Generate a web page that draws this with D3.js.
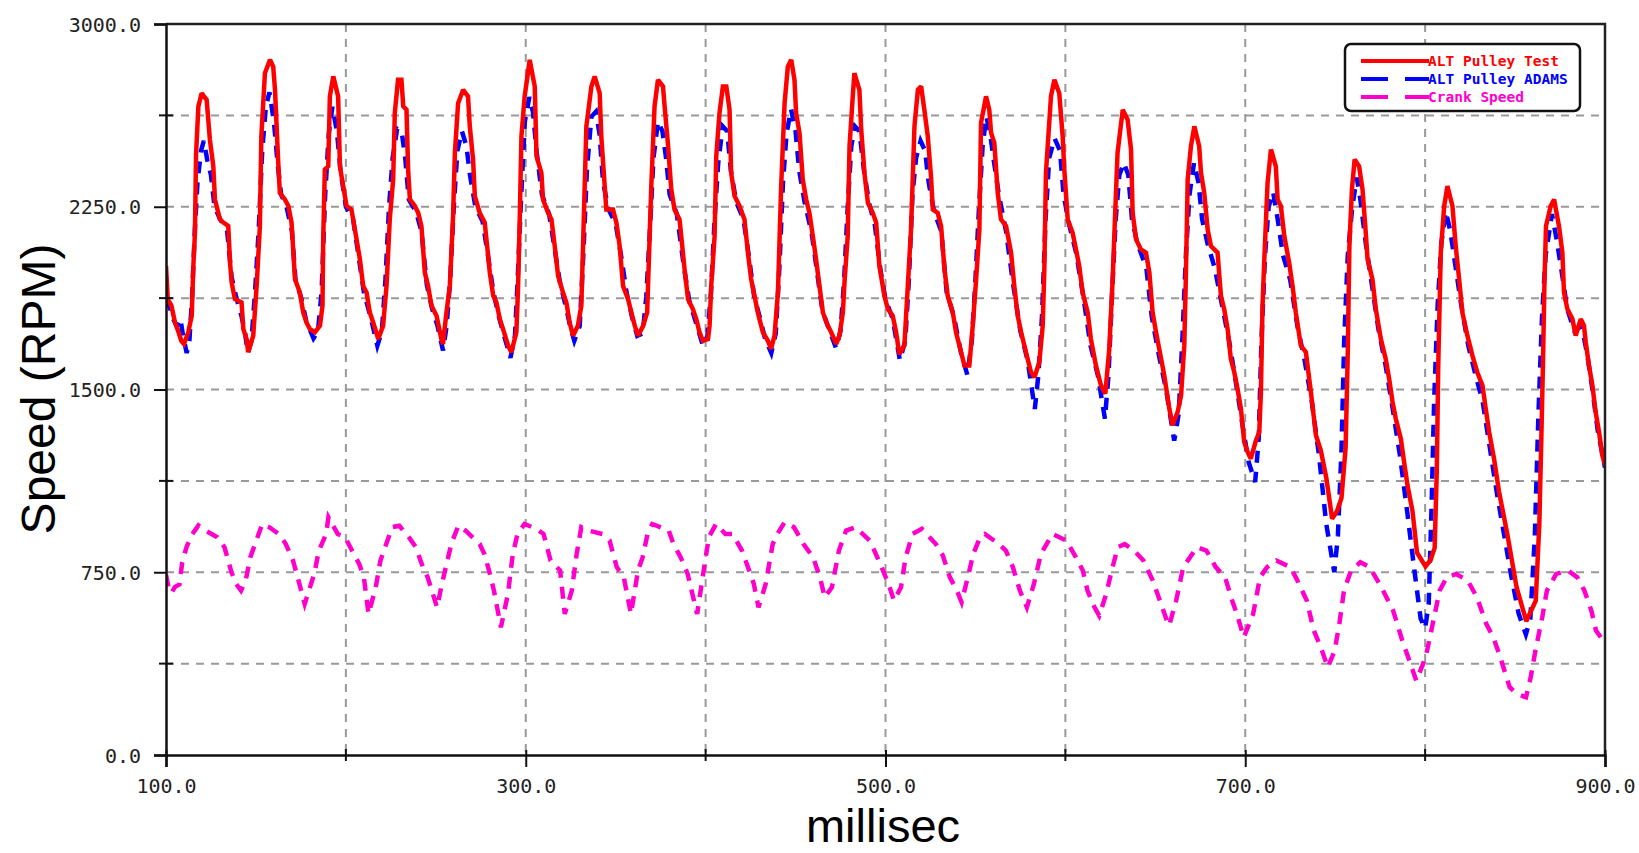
<!DOCTYPE html>
<html>
<head>
<meta charset="utf-8">
<script src="https://cdn.jsdelivr.net/npm/d3@7"></script>
<style>
  html, body { margin: 0; padding: 0; background: #fff; }
  svg { display: block; }
</style>
</head>
<body>
<svg id="chart" width="1639" height="853"></svg>
<script>
// ---------------- data ----------------
const xDomain = [100, 900];
const yDomain = [0, 3000];
const xMajorTicks = [100, 300, 500, 700, 900];
const xMinorTicks = [200, 400, 600, 800];
const yMajorTicks = [0, 750, 1500, 2250, 3000];
const yMinorTicks = [375, 1125, 1875, 2625];
const xGrid = [200, 300, 400, 500, 600, 700, 800];
const yGrid = [375, 750, 1125, 1500, 1875, 2250, 2625];
const xTitle = "millisec";
const yTitle = "Speed (RPM)";
const seriesNames = ["ALT Pulley Test", "ALT Pulley ADAMS", "Crank Speed"];
const seriesColors = ["#ff0000", "#0000ff", "#ff00cc"];

// ALT Pulley Test [ms, RPM]
const altPulleyTest = [
[100,2007],[101,1870],[103,1844],[105,1775],[107,1735],[108.5,1700],[110,1687],[112.4,1735],[114.3,1803],[115.2,2007],
[116.1,2144],[116.7,2464],[118,2662],[119.8,2716],[122.6,2689],[124.4,2525],[126.3,2416],[127.2,2280],[130,2198],[131.9,2185],
[134.6,2171],[135.6,2021],[136.5,1939],[138.3,1871],[142,1857],[143,1748],[144.8,1707],[145.7,1653],[148.5,1721],[150.4,1925],
[152.2,2171],[153,2539],[155,2798],[157.8,2853],[159.6,2825],[160.6,2730],[162.4,2430],[163.3,2307],[166.1,2280],[168,2253],
[169.8,2185],[171.7,1953],[174.4,1898],[176.3,1816],[178.1,1775],[180,1748],[182.8,1735],[185.6,1762],[187,1844],[187.4,2116],
[188.3,2403],[190.2,2416],[191.1,2703],[193,2785],[195.7,2703],[196.7,2416],[198.5,2335],[200.4,2253],[203.1,2239],[205,2157],
[207.8,2034],[209.6,1925],[211.5,1898],[213.3,1816],[215.2,1775],[218,1707],[220.7,1762],[222.6,1925],[224.4,2198],[226.3,2362],
[227.2,2635],[229,2771],[230.9,2771],[231.9,2662],[233.7,2648],[234.6,2403],[235.6,2280],[238.3,2253],[240.2,2225],[242,2171],
[243.9,1980],[245.7,1925],[247.6,1844],[250.4,1803],[253.1,1707],[254,1687],[255.9,1816],[257.8,1925],[259.6,2212],[260.6,2471],
[262.4,2675],[265.2,2730],[267.9,2703],[268.9,2580],[270.7,2444],[271.7,2294],[274.4,2225],[277.2,2185],[279.1,2048],[280,1980],
[281.9,1885],[283.7,1857],[285.6,1789],[287.4,1748],[290.2,1680],[292,1653],[294.8,1735],[295.7,1912],[296.7,2212],[297.6,2539],
[299.4,2703],[302.2,2853],[305,2744],[306,2457],[308.7,2389],[309.6,2280],[312.4,2225],[314.3,2198],[316.1,2089],[318,1966],
[320.7,1898],[322.6,1857],[324.4,1775],[326.3,1721],[329,1762],[330.9,1844],[331.9,2103],[333.7,2580],[336.5,2744],[338.3,2785],
[341.1,2716],[342,2539],[343.9,2335],[344.8,2239],[348.5,2239],[350.4,2185],[352.2,2089],[354.1,1925],[356.9,1871],[358.7,1816],
[360.6,1762],[362.4,1721],[365.2,1760],[367.5,1816],[368.4,2021],[369.8,2335],[371.6,2662],[373.5,2771],[376.3,2744],[377.2,2662],
[379,2512],[380.9,2321],[382.7,2239],[385.5,2198],[388.3,1993],[390.2,1871],[392.9,1830],[394.8,1789],[396.6,1735],[398.5,1700],
[401.3,1707],[402.2,1762],[403.1,1925],[405,2130],[405.9,2457],[407.7,2634],[409.6,2744],[411.5,2744],[413.3,2648],[414.2,2389],
[416.1,2294],[418.9,2253],[421.6,2198],[423.5,2062],[425.3,1953],[427.2,1884],[429,1816],[431.8,1735],[434.6,1700],[436.4,1666],
[438.3,1721],[440.2,1898],[441.1,2116],[442,2335],[443.9,2675],[445.7,2825],[447.6,2853],[449.4,2771],[450.3,2634],[452.2,2553],
[454,2362],[455.9,2280],[457.7,2225],[459.6,2130],[461.4,2034],[463.3,1925],[465.2,1816],[467.9,1762],[469.8,1735],[472.6,1687],
[474.4,1721],[476.3,1816],[477.2,1939],[479,2130],[480,2498],[481.8,2703],[482.7,2798],[485.5,2730],[486.5,2566],[488.3,2389],
[490.2,2266],[492.9,2225],[494.8,2185],[496.6,2007],[499.4,1884],[501.3,1830],[504,1803],[505.9,1735],[507.7,1645],[510.5,1680],
[512.4,1925],[514.2,2157],[516.1,2580],[518,2730],[519.8,2744],[521.6,2648],[523.5,2539],[525.3,2375],[526.3,2239],[529,2225],
[530.9,2171],[532.8,1993],[534.6,1884],[537.4,1816],[539.2,1735],[541.1,1680],[543.9,1598],[546.6,1598],[548.5,1762],[550.4,1953],
[552.2,2157],[553.1,2594],[555.9,2703],[557.7,2648],[558.7,2553],[560.5,2512],[562.4,2307],[564.2,2198],[567,2171],[569.8,2062],
[571.6,1925],[573.5,1803],[575.4,1735],[578.1,1653],[580.9,1571],[582.8,1550],[585.5,1612],[587.4,1762],[588.3,1993],[589.2,2389],
[592,2703],[593.9,2771],[596.6,2716],[598.5,2539],[599.4,2403],[601.3,2198],[604,2144],[605.9,2075],[607.7,2007],[609.6,1898],
[612.4,1816],[614.2,1707],[617,1598],[619.8,1516],[622.2,1483],[624.4,1666],[626.3,1953],[627.2,2130],[629,2471],[631.9,2648],
[634.6,2607],[636.5,2485],[637.4,2225],[639.3,2116],[642,2075],[644.8,2062],[646.7,1980],[648.5,1816],[650.4,1735],[652.2,1666],
[655,1557],[657.8,1421],[659.6,1353],[662.4,1407],[664.3,1475],[666.1,1680],[667,1966],[668,2362],[669.8,2498],[671.7,2580],
[674.4,2498],[675.4,2389],[677.2,2307],[679.1,2157],[680.9,2089],[684.6,2062],[685.6,1966],[686.5,1884],[688.3,1830],[690.2,1748],
[692,1625],[693.9,1571],[695.7,1503],[697.6,1421],[699.4,1285],[701.3,1244],[703.1,1216],[705.9,1290],[707.8,1325],[708.7,1489],
[709.6,1843],[710.6,2034],[712.4,2348],[714.3,2485],[717,2416],[718,2280],[719.8,2253],[721.7,2130],[724.4,2021],[726.3,1925],
[728.1,1816],[730.9,1680],[733.7,1653],[736.5,1489],[739.3,1312],[742,1250],[745,1140],[748.3,970],[751,1000],[753.5,1055],
[755.8,1260],[757,1650],[757.9,2089],[759.3,2321],[760.8,2444],[763.3,2416],[765.2,2321],[767,2144],[768,2034],[770.7,1953],
[772.6,1830],[775.4,1707],[778.1,1625],[780,1544],[781.9,1448],[783.7,1380],[786.5,1298],[788.3,1203],[790.2,1107],[793,1000],
[795.5,830],[800.2,774],[803,800],[805.3,850],[806.5,1170],[807.3,1600],[808.7,2062],[810.6,2253],[812.4,2335],[815.2,2253],
[817,2089],[818.9,1953],[820.7,1816],[823.5,1721],[826.3,1639],[829,1571],[831.9,1516],[833.7,1421],[835.6,1325],[838.3,1216],
[841.1,1080],[845.5,914],[850.8,690],[856.2,549],[861.5,633],[863.5,950],[864.6,1300],[865.5,1600],[866.3,1925],[867.2,2171],
[869.8,2253],[871.7,2280],[874.4,2171],[876.3,2062],[877.2,1898],[879.1,1830],[881.9,1789],[883.7,1721],[886.5,1789],[888.3,1762],
[889.3,1694],[891.1,1598],[893,1516],[894.8,1407],[896.7,1325],[898.5,1230],[900,1189]
];

// ALT Pulley ADAMS [ms, RPM]
const altPulleyAdams = [
[100,1870],[102,1840],[104,1790],[106,1760],[108,1790],[109.5,1720],[111.5,1650],[113,1700],[114.5,1880],[116,2150],
[117.5,2350],[119.5,2480],[121,2520],[123,2440],[125,2380],[127,2250],[130,2200],[134,2150],[136.5,1960],[139,1880],
[142,1800],[144,1730],[145.5,1650],[147.5,1700],[149.5,1900],[151.5,2150],[153.5,2480],[155.5,2660],[157.5,2720],[160,2600],
[162,2430],[164,2300],[167,2250],[170,2150],[172,1950],[175,1880],[178,1780],[182,1710],[184.5,1740],[186.5,1900],
[188.5,2300],[190.5,2550],[192.5,2660],[195,2560],[197,2400],[200,2250],[204,2200],[207,2050],[210,1900],[214,1790],
[217.5,1680],[220,1740],[222,1950],[224,2250],[226,2450],[228.5,2570],[231,2560],[233,2450],[235,2280],[239,2230],
[242,2150],[245,1930],[248,1830],[251,1760],[254,1660],[256,1760],[258,1950],[260,2250],[262,2480],[264.5,2560],
[267,2500],[269,2380],[272,2250],[276,2190],[279,2050],[282,1900],[285,1800],[288,1720],[291.5,1630],[294,1720],
[295.5,1950],[297.5,2300],[299.5,2600],[302,2700],[304,2640],[306,2480],[309,2300],[313,2220],[316,2080],[319,1940],
[322,1850],[325,1750],[327,1700],[330,1760],[332,2050],[334,2400],[336.5,2620],[339,2640],[341,2550],[343,2350],
[346,2240],[350,2180],[353,2050],[356,1900],[359,1800],[362,1720],[365,1730],[367,1880],[369,2150],[371,2450],
[373.5,2600],[376,2560],[378,2450],[380,2300],[384,2220],[388,2000],[391,1860],[394,1790],[398.5,1680],[401,1720],
[403,1900],[405,2200],[407,2430],[409.5,2580],[412,2560],[414,2400],[417,2270],[421,2200],[424,2050],[427,1880],
[430,1800],[433,1710],[436.5,1650],[439,1730],[441,2000],[443,2350],[445,2550],[447.5,2650],[450,2560],[452,2400],
[455,2270],[459,2140],[462,1980],[465,1820],[469,1740],[472.5,1670],[475,1740],[477,1950],[479,2250],[481,2500],
[483,2580],[485.5,2560],[488,2400],[491,2260],[494,2180],[497,2000],[500,1870],[504,1790],[508,1620],[511,1700],
[513,1950],[515,2300],[517,2450],[519.5,2520],[522,2480],[524,2350],[527,2230],[531,2150],[534,1900],[538,1800],
[542,1650],[545.5,1560],[548,1700],[550,1950],[552,2250],[554,2500],[556,2620],[558,2560],[560,2450],[563,2300],
[567,2150],[571,1930],[575,1740],[579,1620],[583,1420],[585,1560],[587,1800],[589,2200],[591,2450],[594,2530],
[597,2480],[599,2300],[602,2180],[606,2060],[610,1880],[614,1680],[618,1560],[622,1380],[624,1560],[626,1900],
[628,2200],[630,2380],[632.5,2430],[635,2380],[637,2200],[640,2100],[645,2000],[648,1800],[652,1640],[656,1500],
[660.5,1290],[663,1400],[665,1700],[667,2050],[669,2300],[671.5,2430],[674,2350],[676,2200],[679,2100],[683,2000],
[687,1850],[691,1700],[695,1520],[699,1330],[702,1200],[705.5,1120],[707.5,1300],[709,1700],[711,2050],[713,2250],
[715.5,2310],[718,2200],[721,2050],[725,1950],[729,1760],[733,1620],[737,1450],[741,1230],[745,950],[749.5,750],
[751.5,900],[753.5,1250],[755,1700],[757,2050],[759.5,2250],[762,2370],[764,2280],[767,2100],[770,1950],[774,1750],
[778,1600],[782,1420],[786,1230],[790,1000],[794,760],[797.5,560],[800,520],[802,620],[803.5,1000],[805,1450],
[807,1850],[809,2100],[811.5,2230],[814,2150],[817,2000],[820,1850],[824,1680],[828,1560],[832,1450],[836,1260],
[840,1070],[844,900],[848,730],[852,580],[856,495],[858.5,560],[861,900],[863,1400],[865,1800],[867,2050],
[870.5,2220],[873,2120],[876,1980],[879,1830],[883,1740],[887,1760],[890,1650],[893,1500],[896,1330],[900,1180]
];

// Crank Speed [ms, RPM]
const crankSpeed = [
[100,740],[101.5,685],[103,665],[105,690],[107.5,700],[109,790],[111.4,853],[114,900],[118,942],[121.9,921],
[128.5,894],[132.5,853],[136.4,750],[139,702],[141.7,675],[144.3,716],[146.9,812],[149.5,866],[153.5,948],[157.4,935],
[162.7,907],[166.6,866],[170.6,798],[173.2,729],[177.1,620],[182.4,743],[185,839],[189,907],[190.3,976],[195.5,907],
[199.5,894],[203.4,839],[207.4,784],[210,729],[212.6,579],[216.6,688],[219.2,798],[221.8,853],[225.8,935],[229.7,941],
[235,894],[238.9,853],[242.8,771],[245.5,729],[250.7,606],[253.4,702],[256,784],[258.6,866],[262.5,941],[266.5,921],
[274.4,866],[277,825],[279.6,757],[282.3,675],[286.2,524],[290.1,661],[292.8,825],[295.4,907],[299.3,948],[305.9,928],
[309.9,907],[313.8,798],[319.1,757],[321.7,579],[325.6,675],[328.3,825],[330.9,935],[334.8,921],[342.7,907],[346.6,880],
[350.6,771],[354.5,729],[358.5,579],[362.4,757],[365,812],[367.7,907],[370.3,948],[379.5,921],[382.1,866],[386.1,812],
[390,743],[395.3,579],[399.2,771],[401.8,894],[405.8,948],[411,907],[415,907],[420.2,839],[422.9,784],[426.8,702],
[429.4,606],[433.4,702],[437.3,866],[439.9,907],[443.9,955],[449.1,935],[454.4,866],[459.7,812],[463.6,729],[466.2,647],
[470.2,688],[474.1,839],[478.1,921],[483.3,935],[491.2,880],[493.8,839],[497.8,771],[501.7,702],[504.7,634],[508.6,688],
[511.2,812],[515,907],[520.2,928],[528,866],[531.9,818],[535.8,729],[539.7,675],[542.3,627],[546.2,743],[548.8,825],
[552.6,894],[555.2,907],[563,866],[566.9,839],[570.8,771],[574.7,675],[578.6,606],[582.5,702],[586.4,825],[592.8,907],
[600.6,880],[605.8,812],[609.7,757],[612.3,675],[616.2,606],[618.8,572],[622.7,661],[625.3,743],[629.1,853],[633,866],
[638.2,839],[643.4,798],[648.6,716],[652.5,634],[656.4,552],[657.7,531],[661.6,634],[665.5,771],[673.2,853],[678.4,839],
[683.6,771],[688.8,729],[692.7,634],[695.3,579],[699.2,483],[704.4,579],[708.2,729],[712.1,771],[717.3,798],[725.1,771],
[729,716],[734.2,634],[738.1,511],[742,442],[745.9,360],[749.7,428],[752.3,538],[754.9,675],[758.8,757],[764,791],
[769.2,771],[775.7,688],[782.2,593],[787.3,470],[792.5,360],[795.1,305],[800.3,401],[804.2,538],[808.1,675],[812,729],
[817.2,743],[823.7,716],[828.8,647],[834,538],[837.9,483],[841.8,401],[847,278],[850.9,251],[856.1,237],[858.7,319],
[861.3,428],[865.1,565],[867.7,675],[872.9,743],[879.4,757],[884.6,729],[888.5,675],[892.4,593],[895,511],[898.9,470],
[900,460]
];

// ---------------- drawing ----------------
const svg = d3.select("#chart");
const plotL = 166, plotR = 1605, plotT = 24, plotB = 755;
const x = d3.scaleLinear().domain(xDomain).range([plotL, plotR]);
const y = d3.scaleLinear().domain(yDomain).range([plotB, plotT]);
const fmt = d3.format(".1f");
const tickFont = "'DejaVu Sans Mono', monospace";

svg.append("rect").attr("width", 1639).attr("height", 853).attr("fill", "#fff");

// grid
const grid = svg.append("g").attr("stroke", "#999").attr("stroke-width", 2).attr("stroke-dasharray", "8,7");
grid.selectAll("line.gx").data(xGrid).join("line").attr("class", "gx")
  .attr("x1", d => x(d)).attr("x2", d => x(d)).attr("y1", plotT).attr("y2", plotB);
grid.selectAll("line.gy").data(yGrid).join("line").attr("class", "gy")
  .attr("x1", plotL).attr("x2", plotR).attr("y1", d => y(d)).attr("y2", d => y(d));

// clip
svg.append("clipPath").attr("id", "plotclip").append("rect")
  .attr("x", plotL).attr("y", plotT - 2).attr("width", plotR - plotL).attr("height", plotB - plotT + 2);

const line = d3.line().x(d => x(d[0])).y(d => y(d[1]));
const plot = svg.append("g").attr("clip-path", "url(#plotclip)");

plot.append("path").datum(crankSpeed).attr("d", line)
  .attr("fill", "none").attr("stroke", seriesColors[2]).attr("stroke-width", 4.5)
  .attr("stroke-dasharray", "12,9");
plot.append("path").datum(altPulleyAdams).attr("d", line)
  .attr("fill", "none").attr("stroke", seriesColors[1]).attr("stroke-width", 4.5)
  .attr("stroke-dasharray", "12,9");
plot.append("path").datum(altPulleyTest).attr("d", line)
  .attr("fill", "none").attr("stroke", seriesColors[0]).attr("stroke-width", 4.5)
  .attr("stroke-linejoin", "miter").attr("stroke-miterlimit", 2);

// frame (top, right)
svg.append("path")
  .attr("d", `M${plotL},${plotT}H${plotR}V${plotB}`)
  .attr("fill", "none").attr("stroke", "#222").attr("stroke-width", 2.5);

// x axis
const xAxis = d3.axisBottom(x).tickValues(xMajorTicks).tickFormat(fmt).tickSize(12).tickPadding(14);
const gx = svg.append("g").attr("transform", `translate(0,${plotB})`).call(xAxis);
gx.select(".domain").attr("stroke", "#111").attr("stroke-width", 2.5);
gx.selectAll(".tick line").attr("stroke", "#111").attr("stroke-width", 2).attr("y1", -5);
gx.selectAll(".tick text").attr("font-family", tickFont).attr("font-size", 20).attr("fill", "#222")
  .attr("dy", null).attr("y", 31).attr("dominant-baseline", "central");
gx.selectAll("line.minor").data(xMinorTicks).join("line").attr("class", "minor")
  .attr("x1", d => x(d)).attr("x2", d => x(d)).attr("y1", -6).attr("y2", 6)
  .attr("stroke", "#111").attr("stroke-width", 2);

// y axis
const yAxis = d3.axisLeft(y).tickValues(yMajorTicks).tickFormat(fmt).tickSize(12).tickPadding(14);
const gy = svg.append("g").attr("transform", `translate(${plotL},0)`).call(yAxis);
gy.select(".domain").attr("stroke", "#111").attr("stroke-width", 2.5);
gy.selectAll(".tick line").attr("stroke", "#111").attr("stroke-width", 2);
gy.selectAll(".tick text").attr("font-family", tickFont).attr("font-size", 20).attr("fill", "#222")
  .attr("dy", null).attr("dominant-baseline", "central").attr("x", -25);
gy.selectAll("line.minor").data(yMinorTicks).join("line").attr("class", "minor")
  .attr("y1", d => y(d)).attr("y2", d => y(d)).attr("x1", -7).attr("x2", 7)
  .attr("stroke", "#111").attr("stroke-width", 2);

// axis titles
svg.append("text").attr("x", 883).attr("y", 842).attr("text-anchor", "middle")
  .attr("font-family", "'Liberation Sans', Arial, sans-serif").attr("font-size", 47).attr("fill", "#000")
  .text(xTitle);
svg.append("text").attr("transform", "translate(55,389) rotate(-90)").attr("text-anchor", "middle")
  .attr("font-family", "'Liberation Sans', Arial, sans-serif").attr("font-size", 48).attr("fill", "#000")
  .text(yTitle);

// legend
const lg = svg.append("g");
lg.append("rect").attr("x", 1345).attr("y", 44).attr("width", 235).attr("height", 67).attr("rx", 6)
  .attr("fill", "#fff").attr("stroke", "#111").attr("stroke-width", 2.5);
const rows = [61, 79, 97];
const dashes = [null, "27,17", "27,17"];
seriesNames.forEach((name, i) => {
  lg.append("line").attr("x1", 1361).attr("x2", 1429).attr("y1", rows[i]).attr("y2", rows[i])
    .attr("stroke", seriesColors[i]).attr("stroke-width", 4)
    .attr("stroke-dasharray", dashes[i]);
  lg.append("text").attr("x", 1428).attr("y", rows[i]).attr("dominant-baseline", "central")
    .attr("font-family", tickFont).attr("font-weight", "bold").attr("font-size", 14.5)
    .attr("fill", seriesColors[i]).text(name);
});
</script>
</body>
</html>
